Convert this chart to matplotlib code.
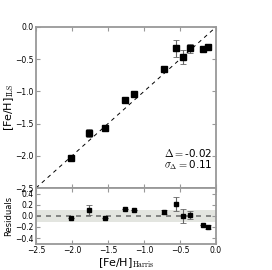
import numpy as np
import matplotlib
matplotlib.use("Agg")
import matplotlib.pyplot as plt

plt.rcParams['mathtext.fontset'] = 'cm'
plt.rcParams['font.family'] = 'DejaVu Sans'

# metallicities
feh_harris = [-2.02, -1.76, -1.54, -1.26, -1.14, -0.72, -0.55, -0.46, -0.36, -0.18, -0.11]
feh_ils = [-2.04, -1.65, -1.57, -1.13, -1.04, -0.65, -0.33, -0.46, -0.33, -0.34, -0.31]
err_ils = [0.0, 0.06, 0.0, 0.0, 0.0, 0.03, 0.13, 0.11, 0.07, 0.0, 0.04]
resid = [-0.03, 0.10, -0.035, 0.12, 0.10, 0.07, 0.21, 0.0, 0.02, -0.17, -0.20]
err_resid = [0.0, 0.09, 0.0, 0.0, 0.0, 0.03, 0.13, 0.12, 0.07, 0.0, 0.04]
delta = -0.02
sigma = 0.11

spine_col = '0.6'

fig = plt.figure(figsize=(2.72, 2.70), dpi=100)
ax = fig.add_axes([0.1324, 0.3037, 0.6618, 0.5963])
axr = fig.add_axes([0.1324, 0.0974, 0.6618, 0.2063])

for a in (ax, axr):
    for s in a.spines.values():
        s.set_color(spine_col)
        s.set_linewidth(1.3)
    a.tick_params(direction='in', length=3, width=0.8, color=spine_col,
                  labelsize=5.5, pad=1.5, top=True, right=True)
    a.set_xlim(-2.5, 0.0)

ax.plot([-2.5, 0], [-2.5, 0], ls='--', color='k', lw=0.7, dashes=(4, 4))
ax.errorbar(feh_harris, feh_ils, yerr=err_ils, fmt='s', color='k', ms=5,
            ecolor='0.4', elinewidth=0.8, capsize=2, capthick=0.6)
ax.set_ylim(-2.5, 0.0)
ax.set_yticks(np.arange(-2.5, 0.01, 0.5))
ax.set_xticks(np.arange(-2.5, 0.01, 0.5))
ax.set_xticklabels([])
ax.set_ylabel(r'[Fe/H]$_{\rm ILS}$', fontsize=8)
ax.yaxis.set_label_coords(-0.11, 0.5)
ax.text(0.98, 0.22, r'$\Delta=$' + '%.2f' % delta, transform=ax.transAxes, ha='right',
        va='center', fontsize=7.5)
ax.text(0.98, 0.145, r'$\sigma_\Delta=$' + '%.2f' % sigma, transform=ax.transAxes, ha='right',
        va='center', fontsize=7.5)

axr.axhspan(-sigma, sigma, color='#e3e5e0', lw=0)
axr.axhline(0, ls='--', color='0.45', lw=1.2, dashes=(3, 3))
axr.errorbar(feh_harris, resid, yerr=err_resid, fmt='s', color='k', ms=3,
             ecolor='0.4', elinewidth=0.8, capsize=2, capthick=0.6)
axr.set_ylim(-0.5, 0.5)
axr.set_yticks([-0.4, -0.2, 0.0, 0.2, 0.4])
axr.set_xticks(np.arange(-2.5, 0.01, 0.5))
axr.set_ylabel('Residuals', fontsize=6, labelpad=2)
axr.set_xlabel(r'[Fe/H]$_{\rm Harris}$', fontsize=8, labelpad=1)

fig.savefig('out.png', dpi=100)
